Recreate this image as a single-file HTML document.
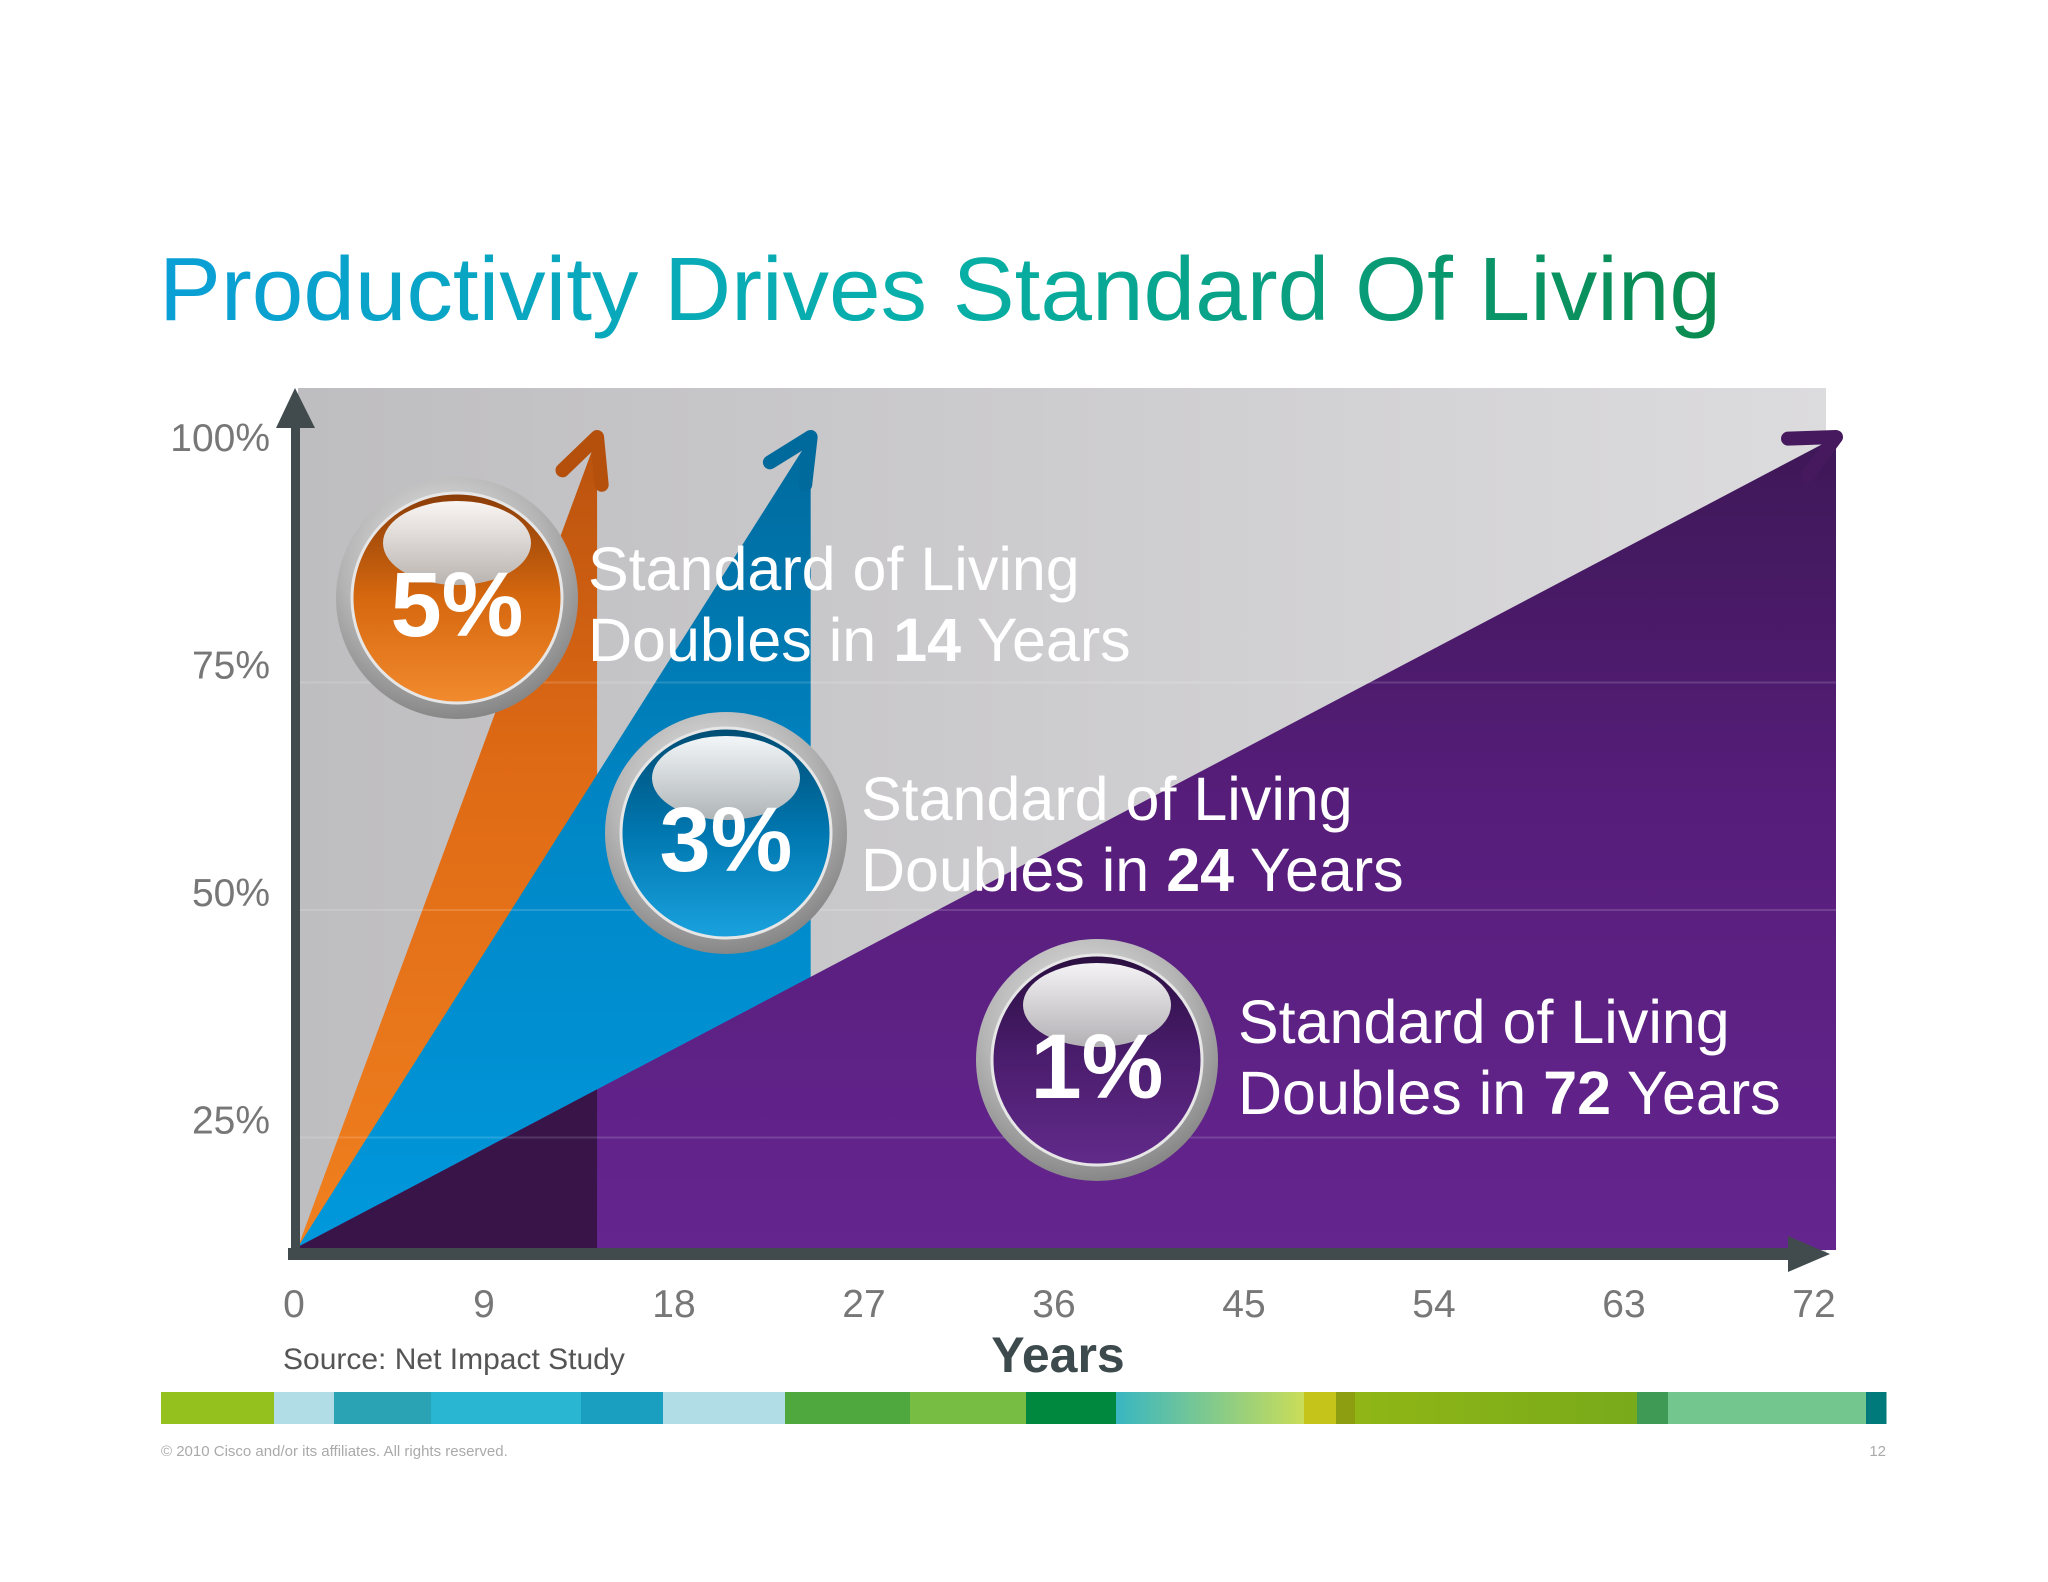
<!DOCTYPE html>
<html><head><meta charset="utf-8"><style>
html,body{margin:0;padding:0;background:#fff;}
svg{display:block;font-family:"Liberation Sans",Arial,sans-serif;}
</style></head><body>
<svg id="chart" width="2048" height="1582" viewBox="0 0 2048 1582" xmlns="http://www.w3.org/2000/svg">
<defs>
<linearGradient id="titleGrad" x1="0" x2="1" y1="0" y2="0"><stop offset="0" stop-color="#0a9fd6"/><stop offset="0.5" stop-color="#08b0a8"/><stop offset="1" stop-color="#0a8a4e"/></linearGradient>
<linearGradient id="bgGrad" x1="0" x2="1"><stop offset="0" stop-color="#bebdbf"/><stop offset="1" stop-color="#dcdbdd"/></linearGradient>
<linearGradient id="purpleGrad" x1="0" x2="0" y1="0" y2="1"><stop offset="0" stop-color="#3e1857"/><stop offset="0.45" stop-color="#561d7a"/><stop offset="1" stop-color="#65258f"/></linearGradient>
<linearGradient id="blueGrad" x1="0" x2="0" y1="0" y2="1"><stop offset="0" stop-color="#006a9c"/><stop offset="0.5" stop-color="#0088c8"/><stop offset="1" stop-color="#0098dc"/></linearGradient>
<linearGradient id="orangeGrad" x1="0" x2="0" y1="0" y2="1"><stop offset="0" stop-color="#b9520e"/><stop offset="0.4" stop-color="#df6a15"/><stop offset="1" stop-color="#f0801f"/></linearGradient>
<radialGradient id="ringGrad" cx="0.45" cy="0.35" r="0.7"><stop offset="0" stop-color="#f2f2f2"/><stop offset="0.6" stop-color="#b5b5b5"/><stop offset="1" stop-color="#7d7d7d"/></radialGradient>
<linearGradient id="b5" x1="0" x2="0" y1="0" y2="1"><stop offset="0" stop-color="#8a3d08"/><stop offset="0.5" stop-color="#d6680f"/><stop offset="1" stop-color="#f28a2e"/></linearGradient>
<linearGradient id="b3" x1="0" x2="0" y1="0" y2="1"><stop offset="0" stop-color="#004d74"/><stop offset="0.5" stop-color="#0077b0"/><stop offset="1" stop-color="#1aa2de"/></linearGradient>
<linearGradient id="b1" x1="0" x2="0" y1="0" y2="1"><stop offset="0" stop-color="#2a0f40"/><stop offset="0.5" stop-color="#4b1d6e"/><stop offset="1" stop-color="#612b8a"/></linearGradient>
<linearGradient id="hl" x1="0" x2="0" y1="0" y2="1"><stop offset="0" stop-color="#ffffff"/><stop offset="1" stop-color="#b8b8b8"/></linearGradient>
<linearGradient id="stripGrad1" x1="0" x2="1"><stop offset="0" stop-color="#38b6c2"/><stop offset="1" stop-color="#cadd58"/></linearGradient>
<linearGradient id="stripGrad2" x1="0" x2="1"><stop offset="0" stop-color="#90b616"/><stop offset="1" stop-color="#78aa1a"/></linearGradient>
</defs>
<text x="159" y="320" font-size="90" fill="url(#titleGrad)" textLength="1562" lengthAdjust="spacingAndGlyphs">Productivity Drives Standard Of Living</text>
<rect x="298" y="388" width="1528" height="866" fill="url(#bgGrad)"/>
<g id="grid"></g>
<g id="marks"></g>
<g id="axes"></g>
<g id="bubbles"></g>
<text x="1058" y="1372" font-size="50" font-weight="bold" fill="#3d4a4d" text-anchor="middle">Years</text>
<text x="283" y="1369" font-size="30" fill="#555">Source: Net Impact Study</text>
<g id="strip"></g>
<text x="161" y="1456" font-size="15" fill="#aaa">© 2010 Cisco and/or its affiliates. All rights reserved.</text>
<text x="1886" y="1456" font-size="15" fill="#aaa" text-anchor="end">12</text>
</svg>
<script>
const rates = [5, 3, 1];
const doubleYears = [14, 24, 72];
const rateLabels = ['5%', '3%', '1%'];
const yTicks = [100, 75, 50, 25];
const yTickLabels = ['100%', '75%', '50%', '25%'];
const xTicks = [0, 9, 18, 27, 36, 45, 54, 63, 72];
const startPct = 11;
const endPct = 100;

const NS = 'http://www.w3.org/2000/svg';
function xS(v){ return 298 + v * (1836 - 298) / 72; }
function yS(v){ return 1347 - v * 9.1; }
function mk(tag, attrs, parent){ const e = document.createElementNS(NS, tag); for (const k in attrs) e.setAttribute(k, attrs[k]); parent.appendChild(e); return e; }
const grid = document.getElementById('grid'), marks = document.getElementById('marks'), axes = document.getElementById('axes'), bub = document.getElementById('bubbles'), strip = document.getElementById('strip');
const base = 1250;
const ox = xS(0), oy = yS(startPct);

const fills = ['url(#orangeGrad)', 'url(#blueGrad)', 'url(#purpleGrad)'];
const heads = ['#b4500c', '#006a9c', '#46195f'];
const names = ['five', 'three', 'one'];
for (let i = 0; i < rates.length; i++) {
  const xe = xS(doubleYears[i]), ye = yS(endPct);
  const p = mk('polygon', {points: `${ox},${oy} ${xe},${ye} ${xe},${base} ${ox},${base}`, fill: fills[i]}, marks);
  
  
  const ang = Math.atan2(ye - oy, xe - ox);
  const L = 48, a1 = ang + Math.PI - 0.45, a2 = ang + Math.PI + 0.45;
  const h = mk('polyline', {points: `${xe + L*Math.cos(a1)},${ye + L*Math.sin(a1)} ${xe},${ye} ${xe + L*Math.cos(a2)},${ye + L*Math.sin(a2)}`, fill: 'none', stroke: heads[i], 'stroke-width': 14, 'stroke-linecap': 'round', 'stroke-linejoin': 'round'}, marks);
  
  
  if (i === 2) {
    const xc = xS(doubleYears[0]);
    const yc = oy + (ye - oy) * (xc - ox) / (xe - ox);
    const d = mk('polygon', {points: `${ox},${oy} ${xc},${yc} ${xc},${base} ${ox},${base}`, fill: '#381448'}, marks);
    
    
  }
}
for (let i = 1; i < yTicks.length; i++) {
  const g = mk('line', {x1: 298, x2: 1836, y1: yS(yTicks[i]) + 18, y2: yS(yTicks[i]) + 18, stroke: '#ffffff', 'stroke-opacity': 0.15, 'stroke-width': 2}, marks);
  
  
}
const ya = mk('rect', {x: 291, y: 420, width: 9, height: 836, fill: '#414b4e'}, axes);


const yh = mk('polygon', {points: '276,428 295,388 315,428', fill: '#414b4e'}, axes);


const xa = mk('rect', {x: 288, y: 1248, width: 1510, height: 12, fill: '#414b4e'}, axes);


const xh = mk('polygon', {points: '1788,1236 1830,1254 1788,1272', fill: '#414b4e'}, axes);


for (let i = 0; i < yTicks.length; i++) {
  const t = mk('text', {x: 270, y: yS(yTicks[i]) + 14, 'font-size': 39, fill: '#777', 'text-anchor': 'end'}, axes);
  t.textContent = yTickLabels[i];
  
  
}
for (let i = 0; i < xTicks.length; i++) {
  const t = mk('text', {x: xS(xTicks[i]) - 4 - xTicks[i] * 0.25, y: 1317, 'font-size': 39, fill: '#777', 'text-anchor': 'middle'}, axes);
  t.textContent = String(xTicks[i]);
  
  
}
const bcx = [457, 726, 1097], bcy = [598, 833, 1060];
const bfill = ['url(#b5)', 'url(#b3)', 'url(#b1)'];
const lx = [588, 861, 1238], ly = [590, 820, 1043];
for (let i = 0; i < rates.length; i++) {
  const g = mk('g', {}, bub);
  
  
  mk('circle', {cx: bcx[i], cy: bcy[i], r: 121, fill: 'url(#ringGrad)'}, g);
  mk('circle', {cx: bcx[i], cy: bcy[i], r: 105, fill: bfill[i], stroke: '#e6e6e6', 'stroke-width': 3}, g);
  mk('ellipse', {cx: bcx[i], cy: bcy[i] - 55, rx: 74, ry: 42, fill: 'url(#hl)', opacity: 0.95}, g);
  const t = mk('text', {x: bcx[i], y: bcy[i] + 38, 'font-size': 92, 'font-weight': 'bold', fill: '#fff', 'text-anchor': 'middle'}, g);
  t.textContent = rateLabels[i];
  const l1 = mk('text', {x: lx[i], y: ly[i], 'font-size': 61, fill: '#fff'}, bub);
  l1.textContent = 'Standard of Living';
  
  
  const l2 = mk('text', {x: lx[i], y: ly[i] + 71, 'font-size': 61, fill: '#fff'}, bub);
  
  
  const s1 = mk('tspan', {}, l2); s1.textContent = 'Doubles in ';
  const s2 = mk('tspan', {'font-weight': 'bold'}, l2); s2.textContent = String(doubleYears[i]);
  const s3 = mk('tspan', {}, l2); s3.textContent = ' Years';
}
const segs = [[161,274,'#95c11f'],[274,334,'#b1dde6'],[334,431,'#2aa3b5'],[431,581,'#29b6d2'],[581,663,'#1a9fc0'],[663,785,'#b1dde6'],[785,910,'#4ea83d'],[910,1026,'#78bd43'],[1026,1116,'#00883f'],[1116,1304,'url(#stripGrad1)'],[1304,1336,'#c5c41a'],[1336,1355,'#8d9e10'],[1355,1637,'url(#stripGrad2)'],[1637,1668,'#3f9a55'],[1668,1866,'#72c68e'],[1866,1886,'#007a7a']];
for (const s of segs) {
  const r = mk('rect', {x: s[0], y: 1392, width: s[1] - s[0] + 0.5, height: 32, fill: s[2]}, strip);
  
  
}
</script>
</body></html>
